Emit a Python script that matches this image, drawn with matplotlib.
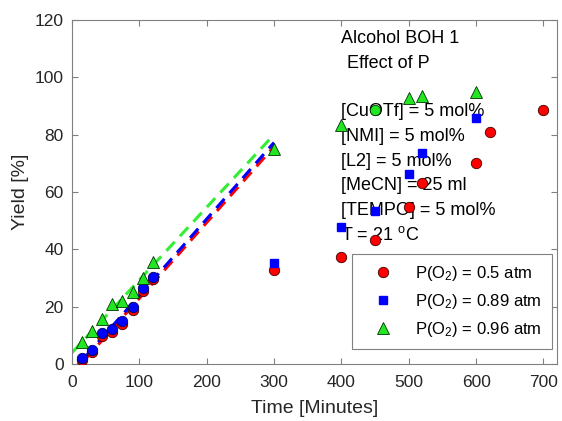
import numpy as np
import matplotlib
matplotlib.use("Agg")
import matplotlib.pyplot as plt

plt.rcParams["font.family"] = ["Liberation Sans", "DejaVu Sans"]
plt.rcParams["mathtext.fontset"] = "custom"
plt.rcParams["mathtext.rm"] = "Liberation Sans"
plt.rcParams["mathtext.it"] = "Liberation Sans:italic"

# ── Datos ──────────────────────────────────────────────────────────────────────
t_early = [15, 30, 45, 60, 75, 90, 105, 120]
red_early = [1.5, 4.2, 9.8, 11.3, 13.9, 18.8, 25.6, 29.6]
blue_early = [2.3, 5.0, 10.7, 12.3, 15.0, 19.8, 26.7, 30.5]
green_early = [7.7, 11.4, 15.6, 20.9, 22.0, 25.3, 30.2, 35.6]

t_red_late = [300, 400, 450, 500, 520, 600, 620, 700]
red_late = [32.8, 37.4, 43.2, 54.9, 63.0, 70.2, 81.0, 88.6]

t_blue_late = [300, 400, 450, 500, 520, 600]
blue_late = [35.2, 47.7, 53.4, 66.2, 73.5, 85.9]

t_green_late = [300, 400, 500, 520, 600]
green_late = [75.0, 83.4, 92.7, 93.5, 95.0]
t_green_odd = [450]
green_odd = [88.6]

legend_labels = [
    r"P(O$_2$) = 0.5 atm",
    r"P(O$_2$) = 0.89 atm",
    r"P(O$_2$) = 0.96 atm",
]
conditions = [
    "[CuOTf] = 5 mol%",
    "[NMI] = 5 mol%",
    "[L2] = 5 mol%",
    "[MeCN] = 25 ml",
    "[TEMPO] = 5 mol%",
    r"T = 21 $^{\rm o}$C",
]

RED = "#FF0000"
BLUE = "#0000FF"
GREEN = "#22E622"

fig = plt.figure(figsize=(5.62, 4.21), dpi=100)
ax = fig.add_axes([0.128, 0.135, 0.863, 0.8175])

# ── Ajustes lineales de la zona inicial ────────────────────────────────────────
t_fit = np.array([0, 300])
for y, c in [(red_early, RED), (blue_early, BLUE), (green_early, "#33EE33")]:
    m, b = np.polyfit(t_early, y, 1)
    ax.plot(t_fit, m * t_fit + b, "--", color=c, lw=2.2, dashes=(4, 2.5), zorder=2)

# ── Puntos experimentales ──────────────────────────────────────────────────────
h_red, = ax.plot(t_early + t_red_late, red_early + red_late, "o", ls="none",
                 ms=7.5, mfc=RED, mec="#400000", mew=0.6, zorder=3)
ax.plot(t_early, blue_early, "o", ls="none", ms=7.5, mfc=BLUE, mec="#000060",
        mew=0.6, zorder=4)
h_blue, = ax.plot(t_blue_late, blue_late, "s", ls="none", ms=6, mfc=BLUE,
                  mec=BLUE, zorder=4)
h_green, = ax.plot(t_early + t_green_late, green_early + green_late, "^",
                   ls="none", ms=9, mfc=GREEN, mec="#003300", mew=0.6, zorder=5)
ax.plot(t_green_odd, green_odd, "o", ls="none", ms=7.5, mfc=GREEN,
        mec="#003300", mew=0.6, zorder=5)

# ── Textos ─────────────────────────────────────────────────────────────────────
ax.text(400, 113.7, "Alcohol BOH 1", fontsize=13, va="center", zorder=2.5)
ax.text(409, 105, "Effect of P", fontsize=13, va="center", zorder=2.5)
for i, s in enumerate(conditions):
    ax.text(400, 88 - i * 8.6, s, fontsize=13, va="center", zorder=2.5)

leg = ax.legend([h_red, h_blue, h_green], legend_labels, loc="lower right",
                bbox_to_anchor=(0.989, 0.044), borderaxespad=0, fontsize=12,
                fancybox=False, framealpha=1, edgecolor="#808080",
                labelspacing=0.55, handletextpad=0.6, borderpad=0.6,
                handlelength=2.6)
leg.get_frame().set_linewidth(0.8)
leg.set_zorder(2.6)

# ── Ejes ───────────────────────────────────────────────────────────────────────
ax.set_xlim(0, 720)
ax.set_ylim(0, 120)
ax.set_xticks(range(0, 701, 100))
ax.set_yticks(range(0, 121, 20))
ax.tick_params(direction="in", length=4, width=0.8, top=True, right=True,
               labelsize=12.5, colors="#808080", labelcolor="#262626", pad=6)
ax.tick_params(axis="x", pad=8)
for sp in ax.spines.values():
    sp.set_color("#808080")
    sp.set_linewidth(0.8)
ax.set_xlabel("Time [Minutes]", fontsize=14, color="#262626", labelpad=7)
ax.set_ylabel("Yield [%]", fontsize=14, color="#262626", labelpad=4)

fig.savefig("out.png", dpi=100)
